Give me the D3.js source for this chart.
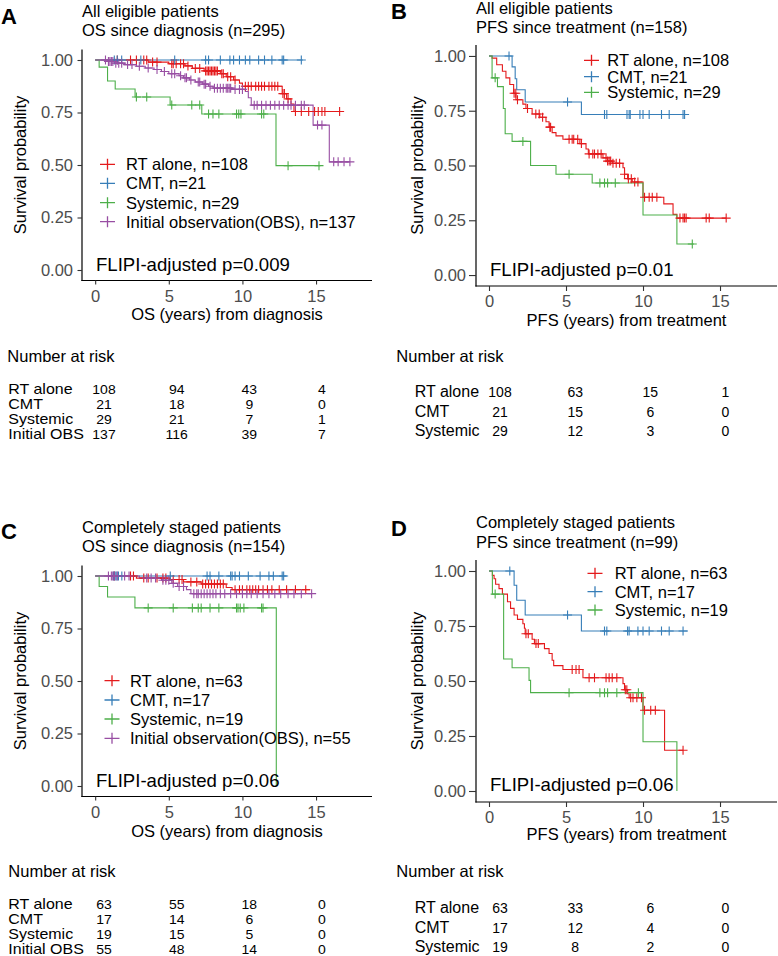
<!DOCTYPE html>
<html><head><meta charset="utf-8">
<script src="https://cdn.jsdelivr.net/npm/d3@7"></script>
<style>
body{margin:0;background:#fff}
svg{display:block}
text{font-family:"Liberation Sans", Arial, Helvetica, sans-serif}
</style>
</head><body>
<svg id="c" width="778" height="956"></svg>
<script>
// ---------- shared labels / ticks ----------
const groupNames = ["RT alone", "CMT", "Systemic", "Initial observation(OBS)"];
const riskLabels = ["RT alone", "CMT", "Systemic", "Initial OBS"];
const yTicks = [0, 0.25, 0.5, 0.75, 1];
const xTicks = [0, 5, 10, 15];
const riskTimes = [0, 5, 10, 15];
const colors = ["#E41A1C", "#377EB8", "#4DAF4A", "#984EA3"];

// ---------- Panel A: all eligible, OS since diagnosis ----------
const A_n = [108, 21, 29, 137];
const A_RT_time = [0, 3.6, 5.0, 6.1, 6.6, 7.4, 8.5, 8.9, 9.4, 9.8, 10.0, 12.7, 13.0, 13.3, 13.5];
const A_RT_surv = [1, 0.99, 0.982, 0.972, 0.96, 0.948, 0.935, 0.92, 0.905, 0.89, 0.875, 0.84, 0.815, 0.79, 0.755];
const A_RT_end = 16.6;
const A_RT_cens = [1.5, 2.4, 2.8, 3.3, 3.5, 3.9, 4.2, 5.2, 5.3, 5.5, 5.8, 6.0, 6.3, 6.8, 7.1, 7.5, 7.6, 7.7, 7.8, 7.9, 8.0, 8.1, 8.2, 8.3, 8.6, 8.7, 9.0, 9.2, 9.5, 10.2, 10.4, 10.6, 10.9, 11.1, 11.3, 11.5, 11.8, 12.0, 12.2, 12.4, 12.75, 12.85, 13.1, 13.6, 14.0, 14.5, 14.9, 15.15, 15.4, 15.6, 16.6];
const A_CMT_time = [0];
const A_CMT_surv = [1];
const A_CMT_end = 14.1;
const A_CMT_cens = [1.3, 1.5, 1.8, 3.1, 5.4, 7.5, 7.7, 8.5, 9.15, 9.4, 9.8, 10.2, 10.5, 11.1, 11.5, 12.0, 12.7, 12.8, 14.0];
const A_Sys_time = [0, 0.27, 0.84, 1.36, 2.71, 5.09, 7.24, 12.28];
const A_Sys_surv = [1, 0.966, 0.9, 0.862, 0.824, 0.786, 0.743, 0.497];
const A_Sys_end = 15.3;
const A_Sys_cens = [2.8, 3.5, 5.2, 6.56, 7.1, 7.7, 8.0, 8.4, 9.6, 9.75, 9.9, 11.3, 11.45, 13.1, 15.2];
const A_OBS_time = [0, 0.9, 1.3, 2.0, 2.8, 3.4, 4.0, 4.5, 5.0, 5.7, 6.0, 6.4, 6.8, 7.3, 7.7, 8.0, 9.3, 10.2, 10.4, 10.6, 14.8, 15.9];
const A_OBS_surv = [1, 0.993, 0.985, 0.978, 0.97, 0.962, 0.955, 0.945, 0.935, 0.925, 0.915, 0.905, 0.895, 0.885, 0.875, 0.866, 0.86, 0.85, 0.82, 0.785, 0.69, 0.515];
const A_OBS_end = 17.3;
const A_OBS_cens = [0.7, 0.9, 1.0, 1.1, 1.2, 1.4, 1.6, 1.8, 2.2, 2.5, 3.0, 3.6, 4.2, 4.7, 5.2, 5.4, 5.8, 6.1, 6.2, 6.5, 7.0, 7.1, 7.4, 7.5, 7.8, 8.1, 8.3, 8.5, 8.7, 8.9, 9.0, 9.1, 9.2, 9.5, 9.8, 10.0, 10.8, 11.0, 11.3, 11.6, 11.9, 12.2, 12.5, 12.8, 13.1, 13.3, 13.6, 14.0, 14.2, 15.1, 15.4, 16.2, 16.5, 16.9, 17.3];
const A_risk_RT = [108, 94, 43, 4];
const A_risk_CMT = [21, 18, 9, 0];
const A_risk_Sys = [29, 21, 7, 1];
const A_risk_OBS = [137, 116, 39, 7];

// ---------- Panel B: all eligible, PFS since treatment ----------
const B_n = [108, 21, 29];
const B_RT_time = [0, 0.2, 0.5, 0.87, 1.1, 1.35, 1.6, 1.75, 2.2, 2.4, 2.8, 3.3, 3.7, 3.9, 4.1, 4.35, 4.8, 5.9, 6.3, 6.45, 7.4, 7.7, 8.0, 8.7, 8.8, 9.0, 9.3, 10.0, 11.35, 11.95, 12.2];
const B_RT_surv = [1, 0.99, 0.96, 0.93, 0.9, 0.87, 0.83, 0.8, 0.78, 0.76, 0.735, 0.72, 0.70, 0.675, 0.65, 0.635, 0.62, 0.60, 0.575, 0.553, 0.535, 0.52, 0.51, 0.49, 0.46, 0.44, 0.425, 0.355, 0.325, 0.277, 0.26];
const B_RT_end = 15.4;
const B_RT_cens = [1.63, 1.74, 1.85, 2.5, 3.04, 3.26, 3.48, 3.95, 4.0, 5.2, 5.4, 5.5, 5.76, 6.0, 6.5, 6.74, 6.85, 7.07, 7.28, 7.6, 7.7, 7.8, 7.9, 8.05, 8.26, 8.48, 8.8, 9.05, 9.24, 9.46, 9.67, 10.1, 10.4, 10.6, 10.9, 12.4, 12.6, 12.7, 12.8, 14.1, 14.3, 15.4];
const B_CMT_time = [0, 1.5, 1.7, 1.8, 2.35, 6.0];
const B_CMT_surv = [1, 0.95, 0.896, 0.846, 0.79, 0.733];
const B_CMT_end = 12.7;
const B_CMT_cens = [1.3, 5.1, 7.5, 7.65, 8.96, 9.1, 9.17, 9.8, 10.0, 10.4, 11.2, 11.7, 12.6, 12.7];
const B_Sys_time = [0, 0.2, 0.55, 0.93, 1.05, 1.5, 2.7, 4.35, 6.7, 10.0, 12.2];
const B_Sys_surv = [1, 0.9, 0.86, 0.76, 0.645, 0.61, 0.5, 0.46, 0.42, 0.274, 0.142];
const B_Sys_end = 13.3;
const B_Sys_cens = [0.4, 2.2, 5.2, 7.2, 7.5, 7.7, 8.2, 13.2];
const B_risk_RT = [108, 63, 15, 1];
const B_risk_CMT = [21, 15, 6, 0];
const B_risk_Sys = [29, 12, 3, 0];

// ---------- Panel C: completely staged, OS since diagnosis ----------
const C_n = [63, 17, 19, 55];
const C_RT_time = [0, 2.8, 5.1, 6.0, 7.2, 8.9, 9.3];
const C_RT_surv = [1, 0.99, 0.983, 0.972, 0.962, 0.945, 0.935];
const C_RT_end = 14.6;
const C_RT_cens = [1.3, 2.4, 2.6, 3.3, 3.6, 4.2, 4.6, 4.8, 5.3, 5.7, 5.9, 6.5, 6.9, 7.3, 7.5, 7.7, 7.9, 8.1, 8.3, 8.5, 8.7, 9.5, 9.8, 10.0, 10.3, 10.5, 10.7, 10.9, 11.1, 11.4, 11.7, 12.0, 12.5, 13.0, 13.6, 14.3];
const C_CMT_time = [0];
const C_CMT_surv = [1];
const C_CMT_end = 13.0;
const C_CMT_cens = [1.24, 1.36, 1.47, 1.58, 1.81, 5.1, 7.6, 7.8, 8.4, 9.2, 9.3, 9.5, 9.8, 10.4, 11.2, 11.8, 12.1, 12.7, 12.8];
const C_Sys_time = [0, 0.27, 0.84, 2.7, 12.3];
const C_Sys_surv = [1, 0.95, 0.9, 0.848, 0];
const C_Sys_end = 12.3;
const C_Sys_cens = [3.6, 5.3, 6.6, 7.0, 7.2, 7.8, 8.4, 9.6, 9.7, 9.85, 10.1, 11.3, 11.4];
const C_OBS_time = [0, 3.0, 4.5, 5.2, 5.6, 6.2, 6.5];
const C_OBS_surv = [1, 0.99, 0.98, 0.965, 0.95, 0.935, 0.916];
const C_OBS_end = 14.7;
const C_OBS_cens = [0.9, 1.1, 1.2, 1.3, 1.5, 2.0, 2.3, 3.5, 3.8, 4.1, 4.6, 4.8, 5.0, 5.3, 5.7, 6.0, 6.7, 6.9, 7.0, 7.2, 7.4, 7.6, 7.8, 8.0, 8.2, 8.5, 8.8, 9.2, 9.6, 10.0, 10.3, 10.6, 11.0, 11.4, 11.8, 12.2, 12.6, 13.1, 13.5, 14.0, 14.7];
const C_risk_RT = [63, 55, 18, 0];
const C_risk_CMT = [17, 14, 6, 0];
const C_risk_Sys = [19, 15, 5, 0];
const C_risk_OBS = [55, 48, 14, 0];

// ---------- Panel D: completely staged, PFS since treatment ----------
const D_n = [63, 17, 19];
const D_RT_time = [0, 0.22, 0.33, 0.43, 0.65, 0.87, 1.2, 1.4, 1.63, 1.85, 2.2, 2.3, 2.35, 2.8, 2.95, 3.6, 3.9, 4.1, 4.2, 4.8, 6.1, 8.7, 8.8, 9.0, 9.1, 10.0, 11.4];
const D_RT_surv = [1, 0.98, 0.965, 0.94, 0.92, 0.895, 0.86, 0.83, 0.8, 0.78, 0.76, 0.74, 0.715, 0.69, 0.67, 0.647, 0.625, 0.594, 0.57, 0.552, 0.515, 0.488, 0.46, 0.442, 0.424, 0.367, 0.185];
const D_RT_end = 12.6;
const D_RT_cens = [2.4, 2.55, 3.05, 3.2, 5.4, 5.65, 5.85, 6.5, 6.85, 7.6, 7.8, 8.0, 8.3, 8.85, 8.95, 9.2, 9.35, 9.6, 9.9, 10.1, 10.5, 10.8, 12.6];
const D_CMT_time = [0, 1.63, 1.8, 2.35, 6.0];
const D_CMT_surv = [1, 0.935, 0.867, 0.8, 0.727];
const D_CMT_end = 12.9;
const D_CMT_cens = [1.35, 5.1, 7.5, 7.65, 9.0, 9.1, 9.67, 10.0, 10.4, 11.2, 11.7, 12.6];
const D_Sys_time = [0, 0.22, 0.95, 1.5, 2.6, 2.7, 10.0, 12.2];
const D_Sys_surv = [1, 0.895, 0.6, 0.56, 0.503, 0.447, 0.224, 0];
const D_Sys_end = 12.2;
const D_Sys_cens = [0.4, 5.2, 7.2, 7.5, 7.7, 8.3, 9.7];
const D_risk_RT = [63, 33, 6, 0];
const D_risk_CMT = [17, 12, 4, 0];
const D_risk_Sys = [19, 8, 2, 0];

// ---------- panel definitions (data refs + layout) ----------
const panels = [
  { letter: "A", title: ["All eligible patients", "OS since diagnosis (n=295)"], xlab: "OS (years) from diagnosis", p: "FLIPI-adjusted p=0.009",
    n: A_n,
    groups: [[A_RT_time, A_RT_surv, A_RT_end, A_RT_cens], [A_CMT_time, A_CMT_surv, A_CMT_end, A_CMT_cens], [A_Sys_time, A_Sys_surv, A_Sys_end, A_Sys_cens], [A_OBS_time, A_OBS_surv, A_OBS_end, A_OBS_cens]],
    risk: [A_risk_RT, A_risk_CMT, A_risk_Sys, A_risk_OBS],
    L: { x0: 82, x1: 372, xdom: [-0.895, 18.8], ytop: 49.5, ybot: 280.5, ytick: 4.5, ypad: 4.5, xtick: 4, xpad: 6,
         letterX: 1, letterY: 24, titleX: 82, titleY: [16.7, 35.7], xlabY: 320, ylabX: 25.5,
         legKX: 107.5, legTX: 126, legY: [164.3, 183.3, 202.7, 221.7], pX: 96, pY: 271,
         narY: 362.3, narX: 7.3, rlX: 8.3, rY: [394.3, 409.2, 424.1, 439], rRange: [104, 322], rSy: 0.86 } },
  { letter: "B", title: ["All eligible patients", "PFS since treatment (n=158)"], xlab: "PFS (years) from treatment", p: "FLIPI-adjusted p=0.01",
    n: B_n,
    groups: [[B_RT_time, B_RT_surv, B_RT_end, B_RT_cens], [B_CMT_time, B_CMT_surv, B_CMT_end, B_CMT_cens], [B_Sys_time, B_Sys_surv, B_Sys_end, B_Sys_cens]],
    risk: [B_risk_RT, B_risk_CMT, B_risk_Sys],
    L: { x0: 476, x1: 777, xdom: [-0.844, 18.7], ytop: 45, ybot: 286, ytick: 7, ypad: 3, xtick: 5, xpad: 4,
         letterX: 391, letterY: 19, titleX: 476, titleY: [14, 33], xlabY: 325.7, ylabX: 423,
         legKX: 591.5, legTX: 607.3, legY: [60.3, 76.7, 92.3], pX: 490, pY: 275.7,
         narY: 362.3, narX: 396.3, rlX: 414.7, rY: [397.3, 416.7, 436], rRange: [500, 725.5], rSy: 1 } },
  { letter: "C", title: ["Completely staged patients", "OS since diagnosis (n=154)"], xlab: "OS (years) from diagnosis", p: "FLIPI-adjusted p=0.06",
    n: C_n,
    groups: [[C_RT_time, C_RT_surv, C_RT_end, C_RT_cens], [C_CMT_time, C_CMT_surv, C_CMT_end, C_CMT_cens], [C_Sys_time, C_Sys_surv, C_Sys_end, C_Sys_cens], [C_OBS_time, C_OBS_surv, C_OBS_end, C_OBS_cens]],
    risk: [C_risk_RT, C_risk_CMT, C_risk_Sys, C_risk_OBS],
    L: { x0: 82, x1: 372, xdom: [-0.895, 18.8], ytop: 565.5, ybot: 796.5, ytick: 4.5, ypad: 4.5, xtick: 4, xpad: 6,
         letterX: 1, letterY: 539, titleX: 82, titleY: [532.7, 552.3], xlabY: 837, ylabX: 26,
         legKX: 112, legTX: 130, legY: [680.7, 700, 719, 738.3], pX: 96, pY: 786.7,
         narY: 877.3, narX: 8.3, rlX: 8.3, rY: [909.3, 924, 939.3, 954], rRange: [104, 322], rSy: 0.86 } },
  { letter: "D", title: ["Completely staged patients", "PFS since treatment (n=99)"], xlab: "PFS (years) from treatment", p: "FLIPI-adjusted p=0.06",
    n: D_n,
    groups: [[D_RT_time, D_RT_surv, D_RT_end, D_RT_cens], [D_CMT_time, D_CMT_surv, D_CMT_end, D_CMT_cens], [D_Sys_time, D_Sys_surv, D_Sys_end, D_Sys_cens]],
    risk: [D_risk_RT, D_risk_CMT, D_risk_Sys],
    L: { x0: 476, x1: 777, xdom: [-0.844, 18.7], ytop: 560, ybot: 802, ytick: 7, ypad: 3, xtick: 5, xpad: 4,
         letterX: 391, letterY: 535.5, titleX: 476, titleY: [527.7, 547.7], xlabY: 840, ylabX: 423,
         legKX: 595, legTX: 614.7, legY: [573.3, 591.7, 610], pX: 490, pY: 790.7,
         narY: 877.3, narX: 396.3, rlX: 414.7, rY: [913.3, 932.7, 952.3], rRange: [500, 725.5], rSy: 1 } }
];

const svg = d3.select("#c");
const FS = 16.5;

function survAt(times, survs, t) {
  let s = survs[0];
  for (let k = 0; k < times.length; k++) { if (times[k] <= t) s = survs[k]; }
  return s;
}

panels.forEach(P => {
  const L = P.L;
  const g = svg.append("g");
  const x = d3.scaleLinear().domain(L.xdom).range([L.x0, L.x1]);
  const y = d3.scaleLinear().domain([-0.05, 1.05]).range([L.ybot, L.ytop]);

  // panel letter
  g.append("text").attr("x", L.letterX).attr("y", L.letterY).attr("font-size", 22).attr("font-weight", "bold").text(P.letter);
  // titles
  P.title.forEach((t, i) => g.append("text").attr("x", L.titleX).attr("y", L.titleY[i]).attr("font-size", FS).attr("fill", "#000").text(t));

  // axes
  const yAx = g.append("g").attr("transform", `translate(${L.x0},0)`)
    .call(d3.axisLeft(y).tickValues(yTicks).tickFormat(d3.format(".2f")).tickSize(L.ytick).tickSizeOuter(0).tickPadding(L.ypad));
  const xAx = g.append("g").attr("transform", `translate(0,${L.ybot})`)
    .call(d3.axisBottom(x).tickValues(xTicks).tickFormat(d3.format("d")).tickSize(L.xtick).tickSizeOuter(0).tickPadding(L.xpad));
  [yAx, xAx].forEach(a => {
    a.attr("font-size", FS).attr("font-family", '"Liberation Sans", Arial, sans-serif');
    a.select(".domain").attr("stroke", "#000").attr("stroke-width", 1.2);
    a.selectAll(".tick line").attr("stroke", "#333").attr("stroke-width", 1.1);
    a.selectAll(".tick text").attr("fill", "#4D4D4D");
  });
  yAx.select(".domain").attr("d", `M0,${L.ytop}V${L.ybot + 0.6}`);
  xAx.select(".domain").attr("d", `M${L.x0 - 0.6},0H${L.x1}`);

  // axis titles
  g.append("text").attr("x", (L.x0 + L.x1) / 2).attr("y", L.xlabY).attr("text-anchor", "middle").attr("font-size", FS).text(P.xlab);
  g.append("text").attr("transform", `translate(${L.ylabX},${(L.ytop + L.ybot) / 2}) rotate(-90)`)
    .attr("text-anchor", "middle").attr("font-size", FS).text("Survival probability");

  // curves
  const line = d3.line().x(d => x(d[0])).y(d => y(d[1])).curve(d3.curveStepAfter);
  P.groups.forEach((gr, i) => {
    const [times, survs, end] = gr;
    const pts = times.map((t, k) => [t, survs[k]]);
    pts.push([end, survs[survs.length - 1]]);
    g.append("path").attr("d", line(pts)).attr("fill", "none").attr("stroke", colors[i]).attr("stroke-width", 1.1);
  });
  P.groups.forEach((gr, i) => {
    const [times, survs, end, cens] = gr;
    g.append("g").selectAll("path").data(cens).join("path")
      .attr("transform", t => `translate(${x(t)},${y(survAt(times, survs, t))})`)
      .attr("d", "M-4.5,0H4.5M0,-4.5V4.5")
      .attr("stroke", colors[i]).attr("stroke-width", 1.1).attr("fill", "none");
  });

  // legend
  P.n.forEach((nn, i) => {
    const ly = L.legY[i];
    g.append("path").attr("d", `M${L.legKX - 7.5},${ly}H${L.legKX + 7.5}M${L.legKX},${ly - 5.5}V${ly + 5.5}`)
      .attr("stroke", colors[i]).attr("stroke-width", 1.3).attr("fill", "none");
    g.append("text").attr("x", L.legTX).attr("y", ly).attr("dy", "0.36em").attr("font-size", FS)
      .text(`${groupNames[i]}, n=${nn}`);
  });

  // p-value
  g.append("text").attr("x", L.pX).attr("y", L.pY).attr("font-size", 18.6).text(P.p);

  // number at risk
  g.append("text").attr("x", L.narX).attr("y", L.narY).attr("font-size", FS).text("Number at risk");
  const rx = d3.scaleLinear().domain([0, 15]).range(L.rRange);
  P.risk.forEach((row, i) => {
    g.append("text").attr("transform", `translate(${L.rlX},${L.rY[i]}) scale(1,${L.rSy})`)
      .attr("font-size", 16).text(riskLabels[i]);
    row.forEach((v, k) => {
      g.append("text").attr("transform", `translate(${rx(riskTimes[k])},${L.rY[i]}) scale(1,${L.rSy})`)
        .attr("text-anchor", "middle").attr("font-size", 14).text(v);
    });
  });
});
</script>
</body></html>
